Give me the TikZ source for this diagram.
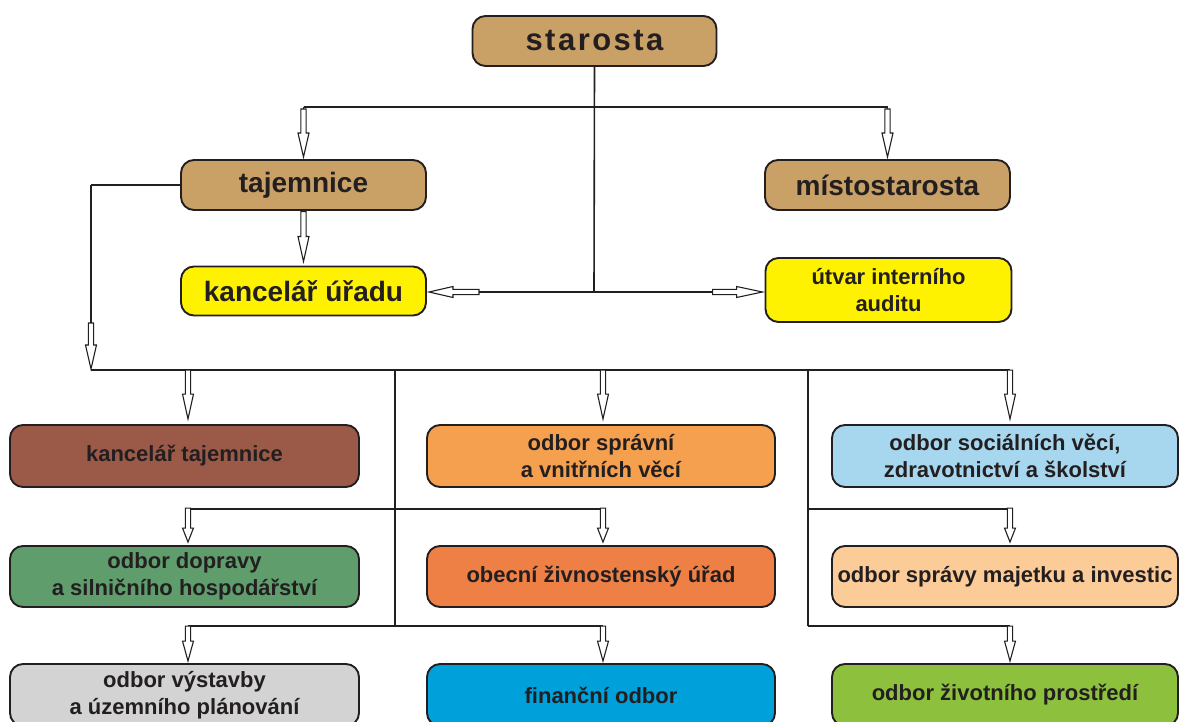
\documentclass[tikz,border=0pt]{standalone}
\usepackage{fontspec}
\setmainfont{Liberation Sans}
\usetikzlibrary{calc}
\definecolor{cLine}{HTML}{231F20}
\definecolor{cText}{HTML}{231F20}
\definecolor{cTan}{HTML}{C9A066}
\definecolor{cYel}{HTML}{FFF200}
\definecolor{cBrown}{HTML}{9B5A48}
\definecolor{cOrL}{HTML}{F5A04F}
\definecolor{cBlueL}{HTML}{A7D7EF}
\definecolor{cGreen}{HTML}{5F9D6D}
\definecolor{cOr}{HTML}{EE8046}
\definecolor{cPeach}{HTML}{FBCB98}
\definecolor{cGray}{HTML}{D3D3D3}
\definecolor{cBlue}{HTML}{00A0DB}
\definecolor{cLime}{HTML}{8DC03D}
\tikzset{
  box/.style={rectangle, draw=cLine, line width=1.9pt, rounded corners=13pt, align=center,
    text=cText, inner sep=0pt, font=\bfseries\fontsize{22}{27}\selectfont},
  bigtext/.style={font=\bfseries\fontsize{28}{30}\selectfont},
  conn/.style={draw=cLine, line width=1.6pt},
  hol/.style={draw=cLine, line width=1.1pt, fill=white, line join=miter},
}
\newcommand\harrow[4]{%
  \path (#1) coordinate (hS);
  \path (#2) coordinate (hT);
  \path ($(hT)!#3pt!(hS)$) coordinate (hB);
  \path ($(hT)!#4pt!(hS)$) coordinate (hH);
  \draw[conn] (hS) -- (hB);
  \draw[hol] ($(hB)!2.6pt!90:(hT)$) -- ($(hH)!2.6pt!90:(hT)$) -- ($(hH)!5.5pt!90:(hT)$)
    -- (hT) -- ($(hH)!5.5pt!-90:(hT)$) -- ($(hH)!2.6pt!-90:(hT)$) -- ($(hB)!2.6pt!-90:(hT)$) -- cycle;
}
\begin{document}
\begin{tikzpicture}[x=1pt,y=-1pt]
\useasboundingbox (0,0) rectangle (1181,722);
% top level
\node[box, fill=cTan, minimum width=244, minimum height=50,
  font=\bfseries\fontsize{31}{33}\selectfont\addfontfeature{LetterSpace=8}] (star) at (594.5,41) {starosta};
\node[box, bigtext, fill=cTan, minimum width=245, minimum height=50] (taj) at (303.5,185) {tajemnice};
\node[box, bigtext, fill=cTan, minimum width=245, minimum height=50] (mist) at (887.5,185) {místostarosta};
\node[box, bigtext, fill=cYel, minimum width=245, minimum height=49] (kanu) at (303.5,291) {kancelář úřadu};
\node[box, fill=cYel, minimum width=246, minimum height=64] (utv) at (888.5,290) {útvar interního\\auditu};
% row 1
\node[box, fill=cBrown, minimum width=349, minimum height=62] (k1) at (184.5,456) {kancelář tajemnice};
\node[box, fill=cOrL, minimum width=348, minimum height=62] (m1) at (601,456) {odbor správní\\a vnitřních věcí};
\node[box, fill=cBlueL, minimum width=346, minimum height=62] (r1) at (1005,456) {odbor sociálních věcí,\\zdravotnictví a školství};
% row 2
\node[box, fill=cGreen, minimum width=349, minimum height=61] (k2) at (184.5,576.5) {odbor dopravy\\a silničního hospodářství};
\node[box, fill=cOr, minimum width=348, minimum height=61] (m2) at (601,576.5) {obecní živnostenský úřad};
\node[box, fill=cPeach, minimum width=346, minimum height=61] (r2) at (1005,576.5) {odbor správy majetku a investic};
% row 3
\node[box, fill=cGray, minimum width=349, minimum height=62] (k3) at (184.5,695) {odbor výstavby\\a územního plánování};
\node[box, fill=cBlue, minimum width=348, minimum height=62] (m3) at (601,695) {finanční odbor};
\node[box, fill=cLime, minimum width=346, minimum height=62] (r3) at (1005,695) {odbor životního prostředí};
% helper coordinates
\coordinate (topbar) at (594,107);
\coordinate (mid) at (594,292);
\coordinate (bus) at (0,370);
\coordinate (lv2) at (0,509);
\coordinate (lv3) at (0,626);
\coordinate (xTr) at (91,0);
\coordinate (xL) at (188,0);
\coordinate (xM) at (603,0);
\coordinate (xR) at (1010,0);
\coordinate (xA) at (395,0);
\coordinate (xB) at (808,0);
% starosta connections
\draw[conn] (star.south) -- (mid);
\draw[conn] (topbar -| taj.north) -- (topbar -| mist.north);
\harrow{topbar -| taj.north}{$(taj.north)+(0,-2)$}{48}{24}
\harrow{topbar -| mist.north}{$(mist.north)+(0,-2)$}{48}{24}
\harrow{mid}{$(kanu.east |- mid)+(2,0)$}{50}{24}
\harrow{mid}{$(utv.west |- mid)+(-2,0)$}{50}{26}
\harrow{taj.south}{$(kanu.north)+(0,-4)$}{50}{25}
% trunk from tajemnice
\draw[conn] (taj.west) -- (taj.west -| xTr);
\harrow{taj.west -| xTr}{$(bus -| xTr)+(0,-1)$}{46}{24}
\draw[conn] (bus -| xTr) -- (bus -| xR);
% row 1 arrows
\harrow{bus -| xL}{$(k1.north -| xL)+(0,-5)$}{49}{25}
\harrow{bus -| xM}{$(m1.north -| xM)+(0,-5)$}{49}{25}
\harrow{bus -| xR}{$(r1.north -| xR)+(0,-5)$}{49}{25}
% vertical trunks
\draw[conn] (bus -| xA) -- (lv3 -| xA);
\draw[conn] (bus -| xB) -- (lv3 -| xB);
\draw[conn] (lv2 -| xL) -- (lv2 -| xM);
\draw[conn] (lv3 -| xL) -- (lv3 -| xM);
\draw[conn] (lv2 -| xB) -- (lv2 -| xR);
\draw[conn] (lv3 -| xB) -- (lv3 -| xR);
% row 2 arrows
\harrow{lv2 -| xL}{$(k2.north -| xL)+(0,-3)$}{34}{14}
\harrow{lv2 -| xM}{$(m2.north -| xM)+(0,-3)$}{34}{14}
\harrow{lv2 -| xR}{$(r2.north -| xR)+(0,-3)$}{34}{14}
% row 3 arrows
\harrow{lv3 -| xL}{$(k3.north -| xL)+(0,-2)$}{35}{20}
\harrow{lv3 -| xM}{$(m3.north -| xM)+(0,-2)$}{35}{20}
\harrow{lv3 -| xR}{$(r3.north -| xR)+(0,-2)$}{35}{20}
\end{tikzpicture}
\end{document}
